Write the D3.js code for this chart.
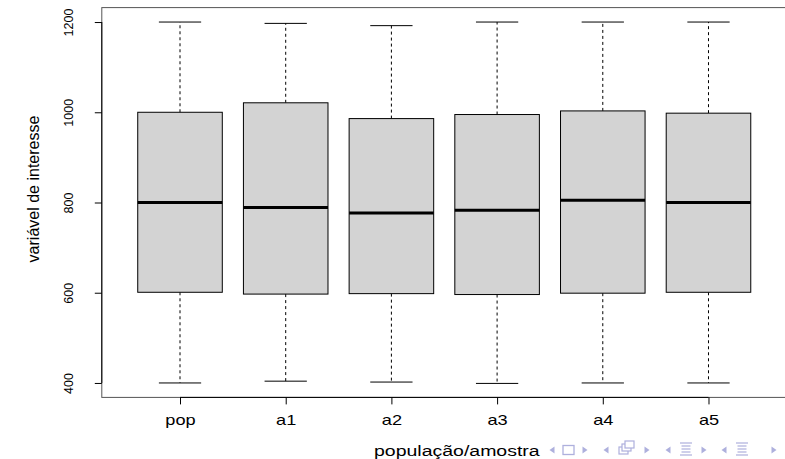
<!DOCTYPE html>
<html>
<head>
<meta charset="utf-8">
<script src="https://cdn.jsdelivr.net/npm/d3@7"></script>
<style>
  html, body { margin: 0; padding: 0; background: #fff; }
  svg { display: block; }
</style>
</head>
<body>
<svg id="chart" width="785" height="459"></svg>
<script>
// ---- data ----
const categories    = ["pop", "a1", "a2", "a3", "a4", "a5"];
const lowerWhisker  = [400, 404, 402, 399, 400, 400];
const q1            = [601, 597, 598, 596, 599, 601];
const median        = [800, 789, 777, 783, 805, 800];
const q3            = [1000, 1021, 986, 995, 1003, 998];
const upperWhisker  = [1200, 1197, 1192, 1200, 1200, 1200];
const yTicks        = [400, 600, 800, 1000, 1200];
const yTitle = "variável de interesse";
const xTitle = "população/amostra";

const svg = d3.select("#chart");
const FONT = "'Liberation Sans', Arial, Helvetica, sans-serif";
const SX = 1.3; // horizontal stretch seen in the reference

// plot region (R-like: usr extends 4%)
const px0 = 101.8, px1 = 786.7, py0 = 7.6, py1 = 397.4;
const n = categories.length;
const x = d3.scaleLinear().domain([0.5 - 0.04 * n, n + 0.5 + 0.04 * n]).range([px0, px1]);
const ext = (yTicks[yTicks.length - 1] - yTicks[0]) * 0.04;
const y = d3.scaleLinear().domain([yTicks[0] - ext, yTicks[yTicks.length - 1] + ext]).range([py1, py0]);

const step = x(2) - x(1);
const boxW = step * 0.8;
const capW = boxW * 0.5;

const data = categories.map((c, i) => ({
  c, i: i + 1, lo: lowerWhisker[i], q1: q1[i], med: median[i], q3: q3[i], hi: upperWhisker[i]
}));

const g = svg.append("g");

// whiskers (dashed)
g.selectAll(".wu").data(data).enter().append("line")
  .attr("x1", d => x(d.i)).attr("x2", d => x(d.i))
  .attr("y1", d => y(d.q3)).attr("y2", d => y(d.hi))
  .attr("stroke", "#000").attr("stroke-width", 1).attr("stroke-dasharray", "3,3");
g.selectAll(".wl").data(data).enter().append("line")
  .attr("x1", d => x(d.i)).attr("x2", d => x(d.i))
  .attr("y1", d => y(d.q1)).attr("y2", d => y(d.lo))
  .attr("stroke", "#000").attr("stroke-width", 1).attr("stroke-dasharray", "3,3");
// caps
g.selectAll(".cu").data(data).enter().append("line")
  .attr("x1", d => x(d.i) - capW / 2).attr("x2", d => x(d.i) + capW / 2)
  .attr("y1", d => y(d.hi)).attr("y2", d => y(d.hi))
  .attr("stroke", "#000").attr("stroke-width", 1);
g.selectAll(".cl").data(data).enter().append("line")
  .attr("x1", d => x(d.i) - capW / 2).attr("x2", d => x(d.i) + capW / 2)
  .attr("y1", d => y(d.lo)).attr("y2", d => y(d.lo))
  .attr("stroke", "#000").attr("stroke-width", 1);
// boxes
g.selectAll(".box").data(data).enter().append("rect")
  .attr("x", d => x(d.i) - boxW / 2).attr("width", boxW)
  .attr("y", d => y(d.q3)).attr("height", d => y(d.q1) - y(d.q3))
  .attr("fill", "#d3d3d3").attr("stroke", "#000").attr("stroke-width", 1);
// medians
g.selectAll(".med").data(data).enter().append("line")
  .attr("x1", d => x(d.i) - boxW / 2).attr("x2", d => x(d.i) + boxW / 2)
  .attr("y1", d => y(d.med)).attr("y2", d => y(d.med))
  .attr("stroke", "#000").attr("stroke-width", 3);

// plot frame
svg.append("rect")
  .attr("x", px0).attr("y", py0).attr("width", px1 - px0).attr("height", py1 - py0)
  .attr("fill", "none").attr("stroke", "#555").attr("stroke-width", 1);

// y axis
const yAxis = d3.axisLeft(y).tickValues(yTicks).tickSize(7).tickPadding(0).tickFormat(d3.format("d"));
const ya = svg.append("g").attr("transform", `translate(${px0},0)`).call(yAxis);
ya.select(".domain").attr("d", `M0,${y(yTicks[0])}V${y(yTicks[yTicks.length - 1])}`).attr("stroke", "#000");
ya.selectAll(".tick line").attr("stroke", "#000");
ya.selectAll(".tick text")
  .attr("x", 0).attr("y", 0)
  .attr("transform", "translate(-33,0) rotate(-90)")
  .attr("text-anchor", "middle").attr("dy", "0.35em")
  .style("font-family", FONT)
  .style("font-size", "12.5px").attr("fill", "#000");

// x axis
const xAxis = d3.axisBottom(x).tickValues(data.map(d => d.i)).tickSize(7).tickPadding(0)
  .tickFormat(v => categories[v - 1]);
const xa = svg.append("g").attr("transform", `translate(0,${py1})`).call(xAxis);
xa.select(".domain").attr("d", `M${x(1)},0H${x(n)}`).attr("stroke", "#000");
xa.selectAll(".tick line").attr("stroke", "#000");
xa.selectAll(".tick text")
  .attr("y", 0).attr("dy", 0)
  .attr("transform", `translate(0,28) scale(${SX},1)`)
  .style("font-family", FONT)
  .style("font-size", "14px").attr("fill", "#000");

// titles
svg.append("text")
  .attr("transform", "translate(33,189) rotate(-90)")
  .attr("text-anchor", "middle").attr("dy", "0.35em")
  .style("font-family", FONT)
  .style("font-size", "16px").attr("fill", "#000")
  .text(yTitle);

svg.append("text")
  .attr("transform", `translate(374,456) scale(${SX},1)`)
  .attr("text-anchor", "start")
  .style("font-family", FONT)
  .style("font-size", "15px").attr("fill", "#000")
  .text(xTitle);

// beamer navigation symbols
const navColor = "#aeb0dd";
const nav = svg.append("g").attr("fill", navColor).attr("stroke", navColor);
const ny = 450;
function triL(cx) { nav.append("path").attr("d", `M${cx + 2.5},${ny - 3.5}L${cx - 2.5},${ny}L${cx + 2.5},${ny + 3.5}Z`).attr("stroke", "none"); }
function triR(cx) { nav.append("path").attr("d", `M${cx - 2.5},${ny - 3.5}L${cx + 2.5},${ny}L${cx - 2.5},${ny + 3.5}Z`).attr("stroke", "none"); }
function lines(cx) {
  [[-7, 12], [-4, 9], [-1, 9], [2, 9], [5, 12]].forEach(([dy, w]) => {
    nav.append("line").attr("x1", cx - w / 2).attr("x2", cx + w / 2).attr("y1", ny + dy).attr("y2", ny + dy).attr("stroke-width", 1.2);
  });
}
// group 1: slide
triL(552);
nav.append("rect").attr("x", 563).attr("y", ny - 4.5).attr("width", 11).attr("height", 9).attr("fill", "none").attr("stroke-width", 1.3);
triR(585);
// group 2: frame
triL(606);
nav.append("rect").attr("x", 619).attr("y", ny - 3).attr("width", 9).attr("height", 7).attr("fill", "#fff").attr("stroke-width", 1.2);
nav.append("rect").attr("x", 622).attr("y", ny - 6).attr("width", 9).attr("height", 7).attr("fill", "#fff").attr("stroke-width", 1.2);
nav.append("rect").attr("x", 625).attr("y", ny - 9).attr("width", 9).attr("height", 7).attr("fill", "#fff").attr("stroke-width", 1.2);
triR(647);
// group 3: subsection
triL(668);
lines(686);
triR(704);
// group 4: section
triL(724);
lines(742);
triR(774);
</script>
</body>
</html>
